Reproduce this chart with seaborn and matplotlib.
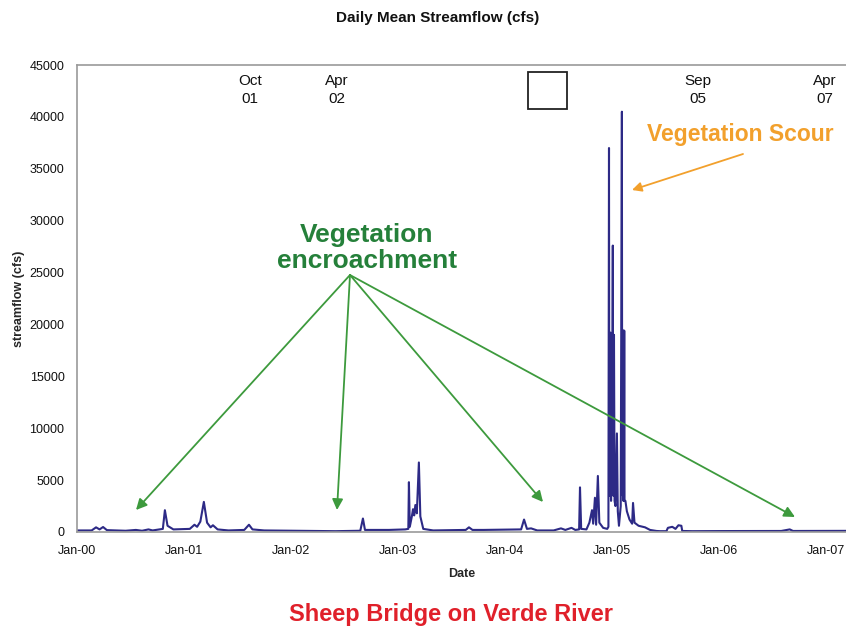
import matplotlib
matplotlib.use("Agg")
import matplotlib.pyplot as plt
import matplotlib.dates as mdates
import seaborn as sns
import pandas as pd

# ---- data (date, daily mean streamflow cfs) ----
dates = [
    "2000-01-01", "2000-02-20", "2000-03-06", "2000-03-18", "2000-03-30", "2000-04-12",
    "2000-06-15", "2000-07-20", "2000-08-10", "2000-09-01", "2000-09-15", "2000-10-20",
    "2000-10-27", "2000-11-05", "2000-11-25", "2001-01-20", "2001-02-05", "2001-02-14",
    "2001-02-25", "2001-03-09", "2001-03-20", "2001-04-01", "2001-04-09", "2001-04-25",
    "2001-06-01", "2001-07-25", "2001-08-10", "2001-08-22", "2001-10-01", "2002-01-01",
    "2002-06-01", "2002-08-25", "2002-09-03", "2002-09-10", "2002-12-01", "2003-01-25",
    "2003-02-05", "2003-02-07", "2003-02-10", "2003-02-17", "2003-02-21", "2003-02-25",
    "2003-03-01", "2003-03-06", "2003-03-13", "2003-03-18", "2003-03-28", "2003-05-01",
    "2003-08-20", "2003-08-31", "2003-09-12", "2003-10-20", "2004-02-25", "2004-03-06",
    "2004-03-16", "2004-03-30", "2004-04-20", "2004-06-15", "2004-07-10", "2004-07-25",
    "2004-08-15", "2004-08-28", "2004-09-10", "2004-09-13", "2004-09-17", "2004-10-05",
    "2004-10-15", "2004-10-24", "2004-10-28", "2004-11-03", "2004-11-07", "2004-11-13",
    "2004-11-18", "2004-12-01", "2004-12-15", "2004-12-19", "2004-12-21", "2004-12-22",
    "2004-12-23", "2004-12-24", "2004-12-25", "2004-12-26", "2004-12-27", "2004-12-28",
    "2004-12-29", "2004-12-30", "2004-12-31", "2005-01-01", "2005-01-02", "2005-01-03",
    "2005-01-04", "2005-01-05", "2005-01-06", "2005-01-07", "2005-01-09", "2005-01-12",
    "2005-01-17", "2005-01-20", "2005-01-24", "2005-01-30", "2005-02-03", "2005-02-04",
    "2005-02-05", "2005-02-06", "2005-02-07", "2005-02-08", "2005-02-09", "2005-02-10",
    "2005-02-11", "2005-02-12", "2005-02-15", "2005-02-20", "2005-03-01", "2005-03-10",
    "2005-03-13", "2005-03-18", "2005-04-01", "2005-04-23", "2005-05-10", "2005-06-01",
    "2005-06-13", "2005-07-05", "2005-07-10", "2005-07-25", "2005-08-05", "2005-08-15",
    "2005-08-25", "2005-08-28", "2005-10-01", "2006-01-01", "2006-08-01", "2006-08-30",
    "2006-09-10", "2007-03-10",
]
flow_cfs = [
    150, 150, 450, 250, 480, 180,
    120, 200, 120, 250, 150, 300,
    2100, 600, 250, 300, 700, 500,
    1000, 2900, 900, 450, 650, 250,
    150, 200, 700, 250, 150, 120,
    80, 120, 1300, 200, 200, 250,
    300, 4800, 500, 1500, 2200, 1600,
    2600, 1800, 6700, 1500, 300, 150,
    200, 450, 200, 200, 250, 1200,
    300, 350, 150, 150, 350, 200,
    400, 200, 250, 4300, 300, 250,
    900, 2100, 800, 3300, 700, 5400,
    900, 400, 300, 500, 37000, 4000,
    19200, 3500, 19200, 4500, 19200, 3000,
    19000, 3500, 19000, 4000, 19000, 27600,
    4000, 19000, 3500, 19000, 3000, 2500,
    9500, 2000, 600, 2500, 40500, 4000,
    19400, 3500, 19400, 3000, 19400, 4000,
    19400, 3000, 3000, 2000, 1200, 800,
    2800, 900, 600, 450, 200, 100,
    80, 80, 400, 500, 300, 650,
    600, 100, 80, 90, 100, 250,
    100, 110,
]

y_ticks = [0, 5000, 10000, 15000, 20000, 25000, 30000, 35000, 40000, 45000]
year_ticks = ["2000-01-01", "2001-01-01", "2002-01-01", "2003-01-01",
              "2004-01-01", "2005-01-01", "2006-01-01", "2007-01-01"]
event_labels = ["Oct\n01", "Apr\n02", "Sep\n05", "Apr\n07"]

df = pd.DataFrame({"Date": pd.to_datetime(dates), "streamflow": flow_cfs})

sns.set_style("white")
plt.rcParams["font.family"] = ["Liberation Sans", "DejaVu Sans"]

W, H = 846, 631
fig = plt.figure(figsize=(W / 100, H / 100), dpi=100)
ax = fig.add_axes([77 / W, 1 - 532 / H, (846 - 77) / W, (532 - 65) / H])

sns.lineplot(data=df, x="Date", y="streamflow", ax=ax, color="#2d2a86",
             linewidth=1.5, estimator=None)

ax.set_ylim(0, 45000)
ax.set_yticks(y_ticks)
ax.set_yticklabels([str(v) for v in y_ticks], fontsize=9)
ax.set_xlim(pd.Timestamp("2000-01-01"), pd.Timestamp("2007-03-10"))
ax.set_xticks(pd.to_datetime(year_ticks))
ax.xaxis.set_major_formatter(mdates.DateFormatter("%b-%y"))
ax.tick_params(axis="both", length=0, labelsize=9, colors="#111111")
ax.tick_params(axis="y", pad=9)
ax.tick_params(axis="x", pad=9)

for s in ["left", "bottom", "top"]:
    ax.spines[s].set_color("#9a9a9a")
    ax.spines[s].set_linewidth(1.2)
ax.spines["right"].set_visible(False)

ax.set_xlabel("Date", fontsize=9, fontweight="bold", labelpad=8)
ax.set_ylabel("streamflow (cfs)", fontsize=9, fontweight="bold", labelpad=3)


def fp(x, y):
    return (x / W, 1 - y / H)


fig.text(*fp(438, 18), "Daily Mean Streamflow (cfs)", ha="center", va="center",
         fontsize=11, fontweight="bold", color="#111111")
fig.text(*fp(451, 614), "Sheep Bridge on Verde River", ha="center", va="center",
         fontsize=17, fontweight="bold", color="#e0202a")

# event labels near top of plot
for (x, lab) in zip([250, 337, 698, 825], event_labels):
    fig.text(*fp(x, 90), lab, ha="center", va="center", fontsize=11,
             color="#111111", linespacing=1.45)

# empty box
box = plt.Rectangle(fp(528, 109), 39 / W, 37 / H, transform=fig.transFigure,
                    fill=False, edgecolor="#222222", linewidth=1.3)
fig.patches.append(box)

green_txt = "#25803a"
green_arr = "#3d9a3d"
orange = "#f2a02c"

fig.text(*fp(367, 248), "Vegetation\nencroachment", ha="center", va="center",
         fontsize=19, fontweight="bold", color=green_txt, linespacing=1.15)
for tx, ty in [(136, 510), (337, 510), (543, 502), (795, 517)]:
    ax.annotate("", xy=fp(tx, ty), xytext=fp(350, 275),
                xycoords="figure fraction", textcoords="figure fraction",
                arrowprops=dict(arrowstyle="-|>", color=green_arr, lw=1.3,
                                mutation_scale=16, shrinkA=0, shrinkB=0))

fig.text(*fp(740, 135), "Vegetation Scour", ha="center", va="center",
         fontsize=16.5, fontweight="bold", color=orange)
ax.annotate("", xy=fp(632, 190), xytext=fp(743, 154),
            xycoords="figure fraction", textcoords="figure fraction",
            arrowprops=dict(arrowstyle="-|>", color=orange, lw=1.3,
                            mutation_scale=14, shrinkA=0, shrinkB=0))

fig.savefig("out.png", dpi=100)
